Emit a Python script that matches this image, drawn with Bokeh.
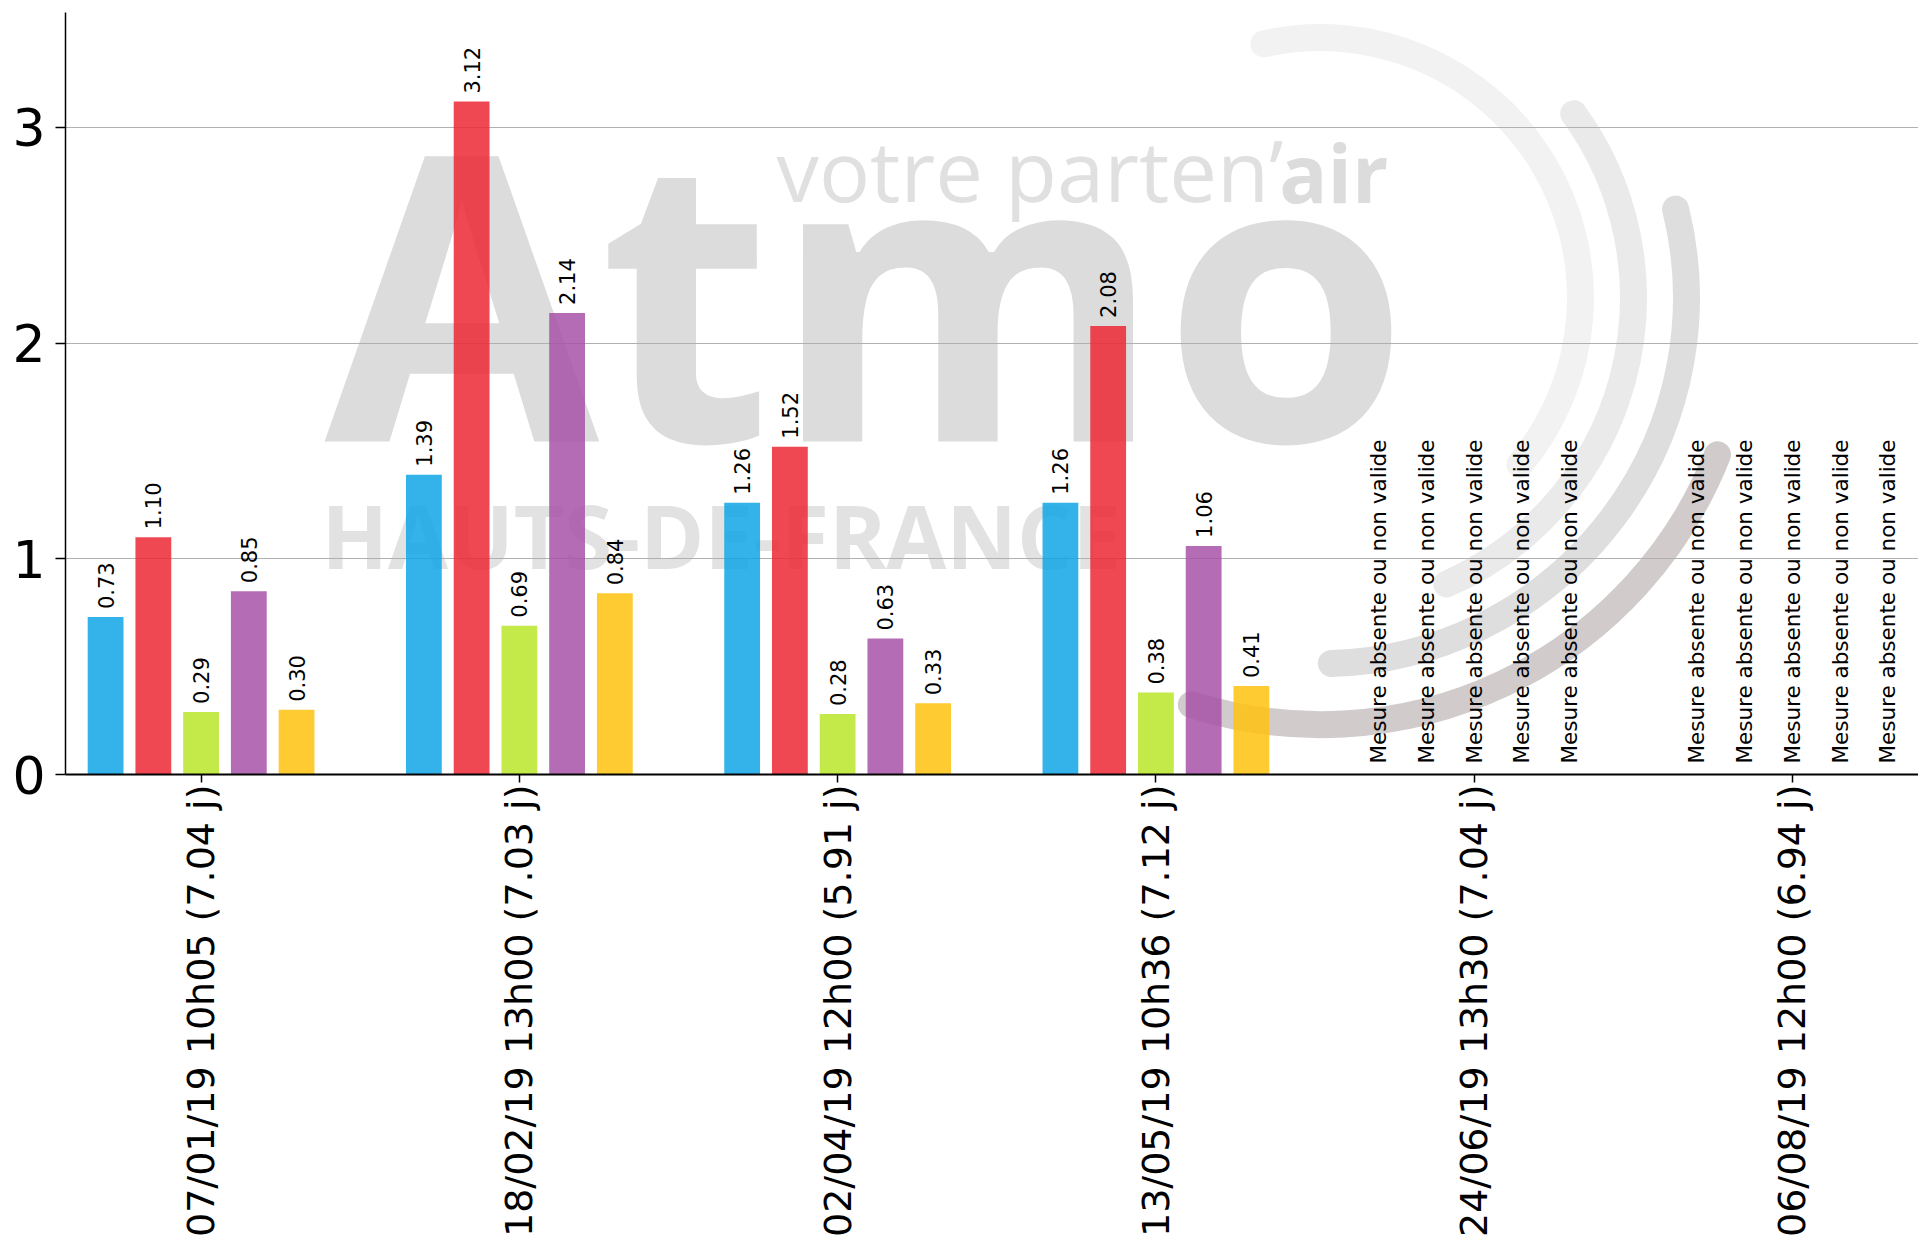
import math
from bokeh.plotting import figure
from bokeh.models import Range1d, FixedTicker, ColumnDataSource
from bokeh.transform import dodge
from bokeh.core.properties import value
from bokeh.embed import file_html
from bokeh.resources import INLINE

# ---------------- data ----------------
dates = ["07/01/19 10h05 (7.04 j)", "18/02/19 13h00 (7.03 j)", "02/04/19 12h00 (5.91 j)",
         "13/05/19 10h36 (7.12 j)", "24/06/19 13h30 (7.04 j)", "06/08/19 12h00 (6.94 j)"]
serie_bleue = [0.73, 1.39, 1.26, 1.26, None, None]
serie_rouge = [1.10, 3.12, 1.52, 2.08, None, None]
serie_verte = [0.29, 0.69, 0.28, 0.38, None, None]
serie_violette = [0.85, 2.14, 0.63, 1.06, None, None]
serie_jaune = [0.30, 0.84, 0.33, 0.41, None, None]
y_ticks = [0, 1, 2, 3]
missing_text = "Mesure absente ou non valide"

series = [serie_bleue, serie_rouge, serie_verte, serie_violette, serie_jaune]
colors = ["#0FA6E6", "#EC2834", "#BAE62A", "#A752A7", "#FFC20F"]

FONT = "DejaVu Sans"
STEP = 0.15
BAR_W = 0.1125

p = figure(frame_width=1853, frame_height=762, output_backend="svg", toolbar_location=None,
           x_range=Range1d(-0.426, 5.396), y_range=Range1d(0, 3.533),
           min_border_left=65, min_border_right=0, min_border_top=12, min_border_bottom=0)
p.outline_line_color = None
p.background_fill_color = "white"
p.border_fill_color = "white"

# ---------------- watermark (logo in background) ----------------
def wm_text(x, y, txt, size, color, style="normal", align="left"):
    r = p.text(x=[x], y=[y], text=[txt], text_font=value("Open Sans"), text_font_style=style,
               text_font_size=size, text_color=color, text_align=align, text_baseline="alphabetic")
    r.level = "image"
    return r

wm_text(0.388, 2.258, "Atmo", "398px", "#DCDCDC", "bold")
wm_text(1.808, 2.806, "votre parten\u2019", "85px", "#E0E0E0")
wm_text(3.730, 2.794, "air", "80px", "#DCDCDC", "bold", "right")
wm_text(0.378, 1.112, "HAUTS-DE-FRANCE", "87px", "#E2E2E2", "bold")

arc_src = ColumnDataSource(dict(
    x=[3.517] * 4, y=[2.211] * 4,
    r=[260, 313, 366, 427],
    a0=[math.radians(-39.9), math.radians(-66.2), math.radians(-88.3), math.radians(-107.6)],
    a1=[math.radians(102.6), math.radians(36.0), math.radians(14.0), math.radians(-21.6)],
    c=["#F2F2F2", "#EAEAEA", "#DEDEDE", "#D1CBCB"]))
wm_arc = p.arc(x="x", y="y", radius="r", radius_units="screen", start_angle="a0", end_angle="a1",
               line_color="c", line_width=27, line_cap="round", source=arc_src)
wm_arc.level = "image"

# ---------------- bars + value labels ----------------
for k, (vals, col) in enumerate(zip(series, colors)):
    off = (k - 2) * STEP
    idx = [i for i, v in enumerate(vals) if v is not None]
    src = ColumnDataSource(dict(idx=idx, val=[vals[i] for i in idx],
                                lab=["%.2f" % vals[i] for i in idx]))
    p.vbar(x=dodge("idx", off, range=p.x_range), top="val", width=BAR_W, bottom=0, source=src,
           fill_color=col, fill_alpha=0.85, line_color=None)
    p.text(x=dodge("idx", off, range=p.x_range), y="val", text="lab", source=src,
           angle=math.pi / 2, text_align="left", text_baseline="middle", y_offset=-8,
           text_font=value(FONT), text_font_size="21px", text_color="black")
    miss = [i for i, v in enumerate(vals) if v is None]
    msrc = ColumnDataSource(dict(idx=miss, y0=[0] * len(miss), lab=[missing_text] * len(miss)))
    p.text(x=dodge("idx", off, range=p.x_range), y="y0", text="lab", source=msrc,
           angle=math.pi / 2, text_align="left", text_baseline="middle", y_offset=-11,
           text_font=value(FONT), text_font_size="21.5px", text_color="black")

# ---------------- axes ----------------
p.xgrid.visible = False
p.ygrid.ticker = FixedTicker(ticks=y_ticks)
p.ygrid.grid_line_color = "#B0B0B0"
p.ygrid.grid_line_width = 1

xa = p.xaxis[0]
xa.ticker = FixedTicker(ticks=list(range(len(dates))))
xa.major_label_overrides = {i: d for i, d in enumerate(dates)}
xa.major_label_orientation = math.pi / 2
xa.major_label_text_font = FONT
xa.major_label_text_font_size = "38px"
xa.major_label_text_color = "black"
xa.major_label_standoff = 2
xa.major_tick_out = 8
xa.major_tick_in = 0
xa.major_tick_line_width = 1.5
xa.major_tick_line_color = "black"
xa.minor_tick_line_color = None
xa.axis_line_width = 2
xa.axis_line_color = "black"

ya = p.yaxis[0]
ya.ticker = FixedTicker(ticks=y_ticks)
ya.major_label_text_font = FONT
ya.major_label_text_font_size = "52px"
ya.major_label_text_color = "black"
ya.major_label_standoff = 10
ya.major_tick_out = 10
ya.major_tick_in = 0
ya.major_tick_line_width = 1.5
ya.major_tick_line_color = "black"
ya.minor_tick_line_color = None
ya.axis_line_width = 1.5
ya.axis_line_color = "black"

open("out.html", "w").write(file_html(p, INLINE))
